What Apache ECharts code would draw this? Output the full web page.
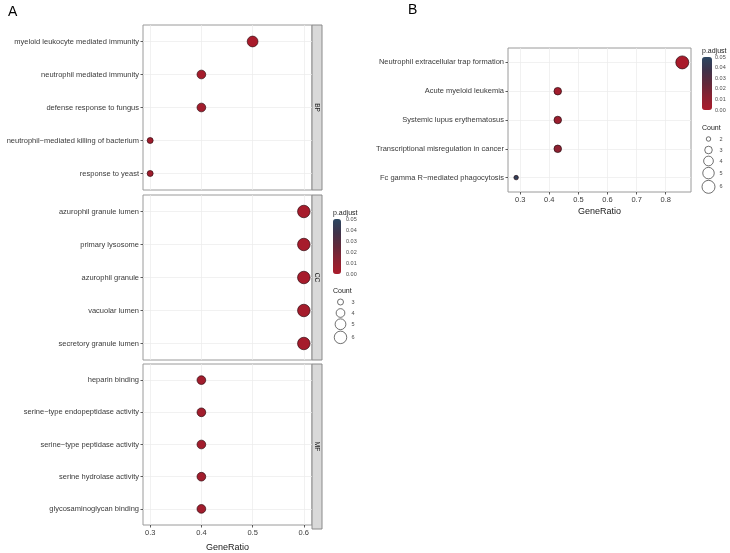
<!DOCTYPE html>
<html>
<head>
<meta charset="utf-8">
<script src="https://cdn.jsdelivr.net/npm/echarts@6/dist/echarts.min.js"></script>
<style>
  html, body { margin: 0; background: #fff; }
  #main { width: 730px; height: 553px; }
</style>
</head>
<body>
<div id="main"></div>
<script>
// ---- panel A: GO enrichment (BP / CC / MF) ----
var bpTerms = ['myeloid leukocyte mediated immunity', 'neutrophil mediated immunity', 'defense response to fungus',
  'neutrophil\u2212mediated killing of bacterium', 'response to yeast'];
var bpRatio = [0.5, 0.4, 0.4, 0.3, 0.3];
var bpCount = [5, 4, 4, 3, 3];
var bpPadj = [0.0005, 0.002, 0.003, 0.004, 0.004];

var ccTerms = ['azurophil granule lumen', 'primary lysosome', 'azurophil granule', 'vacuolar lumen', 'secretory granule lumen'];
var ccRatio = [0.6, 0.6, 0.6, 0.6, 0.6];
var ccCount = [6, 6, 6, 6, 6];
var ccPadj = [0.001, 0.001, 0.001, 0.002, 0.002];

var mfTerms = ['heparin binding', 'serine\u2212type endopeptidase activity', 'serine\u2212type peptidase activity',
  'serine hydrolase activity', 'glycosaminoglycan binding'];
var mfRatio = [0.4, 0.4, 0.4, 0.4, 0.4];
var mfCount = [4, 4, 4, 4, 4];
var mfPadj = [0.003, 0.003, 0.003, 0.003, 0.003];

var ontologies = ['BP', 'CC', 'MF'];

// ---- panel B: KEGG enrichment ----
var keggTerms = ['Neutrophil extracellular trap formation', 'Acute myeloid leukemia', 'Systemic lupus erythematosus',
  'Transcriptional misregulation in cancer', 'Fc gamma R\u2212mediated phagocytosis'];
var keggRatio = [0.857, 0.429, 0.429, 0.429, 0.286];
var keggCount = [6, 3, 3, 3, 2];
var keggPadj = [0.0005, 0.003, 0.006, 0.011, 0.046];

// axis ticks and legends
var ratioTicksA = [0.3, 0.4, 0.5, 0.6];
var ratioTicksB = [0.3, 0.4, 0.5, 0.6, 0.7, 0.8];
var padjTicks = [0.05, 0.04, 0.03, 0.02, 0.01, 0.00];
var countTicksA = [3, 4, 5, 6];
var countTicksB = [2, 3, 4, 5, 6];

var padjColors = ['#aa1b2b', '#8a2232', '#62293a', '#40334a', '#2c4762'];
var FONT = 'Liberation Sans, Arial, sans-serif';

// ggplot-like area scaling for point size
function sizeA(c) { return Math.sqrt(36 + (156 - 36) * (c - 3) / 3); }
function sizeB(c) { return Math.sqrt(20 + (169 - 20) * (c - 2) / 4); }

function rows(terms, ratio, count, padj) {
  return terms.map(function (t, i) { return [ratio[i], t, count[i], padj[i]]; });
}

var chart = echarts.init(document.getElementById('main'));

// layout of panels
var aLeft = 143, aWidth = 169, aTops = [25, 195, 364], aHeight = 165;
var bLeft = 508, bTop = 48, bWidth = 183, bHeight = 144;

var grids = [], xAxes = [], yAxes = [], series = [];
var panelData = [
  rows(bpTerms, bpRatio, bpCount, bpPadj),
  rows(ccTerms, ccRatio, ccCount, ccPadj),
  rows(mfTerms, mfRatio, mfCount, mfPadj)
];
var panelTerms = [bpTerms, ccTerms, mfTerms];

function yAxisFor(idx, terms) {
  return {
    type: 'category', gridIndex: idx, data: terms, inverse: true,
    axisLine: { show: false },
    axisTick: { show: true, length: 2.5, alignWithLabel: true, lineStyle: { color: '#333', width: 0.8 } },
    axisLabel: { fontSize: 7.5, color: '#3a3a3a', margin: 4, fontFamily: FONT },
    splitLine: { show: true, alignWithLabel: true, lineStyle: { color: '#ebebeb', width: 0.7 } }
  };
}
function xAxisFor(idx, min, max, ticks, showLabels, gap) {
  return {
    type: 'value', gridIndex: idx, min: min, max: max,
    axisLine: { show: false },
    axisTick: { show: showLabels, length: 2.5, customValues: ticks, lineStyle: { color: '#333', width: 0.8 } },
    axisLabel: { show: showLabels, customValues: ticks, fontSize: 7.5, color: '#3a3a3a', margin: 4, fontFamily: FONT },
    splitLine: { show: true, customValues: ticks, lineStyle: { color: '#ebebeb', width: 0.7 } },
    name: showLabels ? 'GeneRatio' : '',
    nameLocation: 'middle', nameGap: gap,
    nameTextStyle: { fontSize: 9, color: '#1a1a1a', fontFamily: FONT }
  };
}

for (var i = 0; i < 3; i++) {
  grids.push({ left: aLeft, top: aTops[i], width: aWidth, height: aHeight, show: true,
    borderColor: '#9a9a9a', borderWidth: 1, backgroundColor: '#fff' });
  xAxes.push(xAxisFor(i, 0.286, 0.616, ratioTicksA, i === 2, 18));
  yAxes.push(yAxisFor(i, panelTerms[i]));
  series.push({
    type: 'scatter', xAxisIndex: i, yAxisIndex: i, data: panelData[i],
    encode: { x: 0, y: 1 },
    symbolSize: function (d) { return sizeA(d[2]); },
    itemStyle: { borderColor: 'rgba(45,8,14,0.75)', borderWidth: 0.9, opacity: 1 }
  });
}
grids.push({ left: bLeft, top: bTop, width: bWidth, height: bHeight, show: true,
  borderColor: '#9a9a9a', borderWidth: 1, backgroundColor: '#fff' });
xAxes.push(xAxisFor(3, 0.258, 0.887, ratioTicksB, true, 15));
yAxes.push(yAxisFor(3, keggTerms));
series.push({
  type: 'scatter', xAxisIndex: 3, yAxisIndex: 3, data: rows(keggTerms, keggRatio, keggCount, keggPadj),
  encode: { x: 0, y: 1 },
  symbolSize: function (d) { return sizeB(d[2]); },
  itemStyle: { borderColor: 'rgba(35,8,14,0.75)', borderWidth: 0.9, opacity: 1 }
});

// legends drawn as graphics
var graphics = [];
function txt(x, y, s, size, color, align, vAlign, rot) {
  graphics.push({ type: 'text', x: x, y: y, rotation: rot || 0,
    style: { text: s, fontSize: size, fill: color, fontFamily: FONT, align: align || 'left', verticalAlign: vAlign || 'middle' } });
}
txt(8, 12, 'A', 14, '#000');
txt(408, 10, 'B', 14, '#000');

// facet strips
for (var s = 0; s < 3; s++) {
  graphics.push({ type: 'rect', shape: { x: aLeft + aWidth, y: aTops[s], width: 10, height: aHeight },
    style: { fill: '#d9d9d9', stroke: '#8a8a8a', lineWidth: 1 } });
  txt(aLeft + aWidth + 5, aTops[s] + aHeight / 2, ontologies[s], 6.5, '#1a1a1a', 'center', 'middle', -Math.PI / 2);
}

function colorbarLegend(x, top, h, circleX, countTop, counts, sizeFn, step) {
  txt(x, top - 6, 'p.adjust', 7, '#1a1a1a');
  padjTicks.forEach(function (v) {
    txt(x + 13, top + (0.05 - v) / 0.05 * h, v.toFixed(2), 5.5, '#4d4d4d');
  });
  txt(x, countTop, 'Count', 7, '#1a1a1a');
  var cy = countTop + 11;
  counts.forEach(function (c, k) {
    var d = sizeFn(c);
    if (k > 0) cy += Math.max(step, (sizeFn(counts[k - 1]) + d) / 2 + 1.5);
    graphics.push({ type: 'circle', shape: { cx: circleX, cy: cy, r: d / 2 },
      style: { fill: 'none', stroke: '#333', lineWidth: 0.7 } });
    txt(circleX + 11, cy, String(c), 5.5, '#4d4d4d');
  });
}
colorbarLegend(333, 219, 55, 340.5, 291, countTicksA, sizeA, 11);
colorbarLegend(702, 57, 53, 708.5, 128, countTicksB, sizeB, 11);

var option = {
  backgroundColor: '#fff',
  animation: false,
  grid: grids,
  xAxis: xAxes,
  yAxis: yAxes,
  series: series,
  visualMap: [
    { type: 'continuous', seriesIndex: [0, 1, 2], dimension: 3, min: 0, max: 0.05,
      inRange: { color: padjColors }, calculable: false, orient: 'vertical',
      left: 333, top: 219, itemWidth: 8, itemHeight: 55, padding: 0, text: null },
    { type: 'continuous', seriesIndex: [3], dimension: 3, min: 0, max: 0.05,
      inRange: { color: padjColors }, calculable: false, orient: 'vertical',
      left: 702, top: 57, itemWidth: 10, itemHeight: 53, padding: 0, text: null }
  ],
  graphic: graphics
};
chart.setOption(option);
</script>
</body>
</html>
